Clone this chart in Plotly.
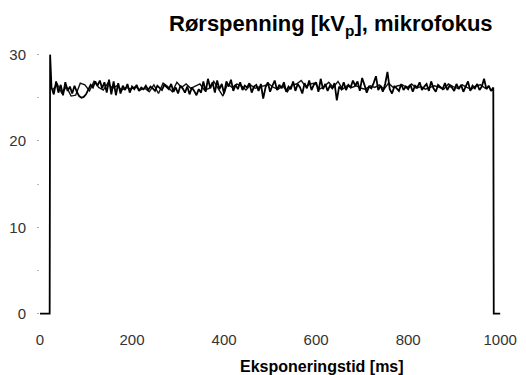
import plotly.graph_objects as go

# sample times (ms) of the measured high-voltage trace
plateau_t = list(range(25, 990, 5))
plateau_kv = [
    26.2, 25.4, 26.9, 25.6, 26.5, 25.3, 26.8, 25.8, 26.3, 25.5,
    26.4, 25.7, 25.2, 25.0, 25.1, 25.4, 25.9, 26.5, 26.2, 26.9,
    26.4, 27.0, 26.1, 26.8, 25.6, 27.1, 25.4, 26.9, 25.3, 26.7,
    25.5, 26.4, 25.9, 26.6, 25.6, 26.3, 26.0, 26.5, 25.8, 26.2,
    26.0, 26.4, 25.9, 26.3, 26.1, 25.8, 26.4, 26.2, 25.9, 26.5,
    26.3, 26.0, 26.6, 25.7, 26.2, 25.5, 26.4, 26.1, 25.6, 26.3,
    25.4, 26.2, 25.8, 25.3, 26.0, 25.6, 26.9, 25.7, 27.2, 26.1,
    26.8, 25.6, 27.0, 26.0, 26.6, 25.5, 26.9, 26.3, 27.1, 25.8,
    26.5, 26.0, 26.8, 25.9, 26.4, 26.2, 26.7, 25.6, 26.3, 26.5,
    25.8, 26.6, 24.9, 26.2, 26.8, 25.7, 26.4, 27.0, 25.9, 26.5,
    26.1, 26.8, 25.7, 26.3, 26.0, 26.9, 25.8, 26.6, 26.2, 25.5,
    26.7, 26.1, 27.0, 25.9, 26.5, 26.8, 25.7, 27.2, 26.0, 26.6,
    25.8, 26.4, 26.1, 26.7, 24.7, 26.3, 26.0, 26.8, 25.9, 26.5,
    26.2, 27.0, 26.4, 26.9, 25.8, 27.3, 26.5, 25.6, 26.3, 26.1,
    26.7, 27.5, 25.9, 26.4, 25.7, 26.6, 28.0, 26.0, 25.5, 26.3,
    26.1, 25.8, 26.6, 25.9, 26.3, 26.0, 26.5, 25.7, 26.4, 26.2,
    26.8, 25.9, 26.3, 26.6, 25.8, 26.9, 26.1, 25.7, 26.5, 26.3,
    26.0, 26.7, 25.9, 26.4, 26.2, 25.8, 26.6, 26.0, 26.5, 25.7,
    26.3, 26.9, 25.8, 26.4, 26.1, 26.6, 25.9, 26.3, 27.2, 26.0,
    26.4, 25.8, 26.2,
]
start_t = [0, 21, 22]
start_kv = [0, 0, 30.0]
end_t = [986, 1000]
end_kv = [0, 0]

# second overlapping trace (interleaved samples)
overlay_t = [v / 10 for v in range(275, 9776, 100)]
overlay_kv = [
    25.9, 26.6, 25.5, 26.3, 25.2, 25.3, 26.7, 26.5, 25.8, 26.9,
    26.2, 25.9, 26.7, 26.1, 26.4, 25.9, 26.2, 26.0, 26.3, 25.9,
    26.1, 25.7, 26.5, 25.5, 26.7, 26.3, 25.7, 26.8, 26.2, 26.6,
    26.1, 26.4, 26.6, 25.9, 26.1, 26.9, 26.0, 25.2, 26.6, 26.2,
    26.6, 26.4, 25.9, 26.5, 26.1, 26.3, 26.4, 26.6, 26.2, 26.0,
    26.4, 25.7, 26.5, 26.6, 27.0, 26.3, 26.6, 26.7, 26.0, 26.3,
    26.8, 26.2, 26.9, 26.0, 26.4, 26.2, 26.4, 26.1, 26.0, 26.4,
    26.2, 26.5, 26.0, 26.7, 26.2, 26.4, 26.5, 26.2, 26.6, 26.1,
    26.3, 26.0, 26.2, 26.4, 26.2, 26.0, 26.6, 26.3, 26.1, 26.5,
    26.2, 26.0, 26.4, 26.5, 26.1, 26.3,
]

t_ms = start_t + plateau_t + end_t
kv = start_kv + plateau_kv + end_kv

x_ticks = [0, 200, 400, 600, 800, 1000]
y_ticks = [0, 10, 20, 30]

title_text = "<b>Rørspenning [kV<sub>p</sub>], mikrofokus</b>"
x_title = "<b>Eksponeringstid [ms]</b>"

fig = go.Figure()
fig.add_trace(go.Scatter(x=overlay_t, y=overlay_kv, mode="lines",
                         line=dict(color="#111", width=1.4),
                         showlegend=False, hoverinfo="skip"))
fig.add_trace(go.Scatter(x=t_ms, y=kv, mode="lines",
                         line=dict(color="black", width=1.8),
                         showlegend=False, hoverinfo="skip"))

fig.update_layout(
    width=526, height=375,
    margin=dict(l=40, r=9, t=46, b=57),
    paper_bgcolor="white", plot_bgcolor="white",
    font=dict(family="Liberation Sans, Arial, sans-serif", color="#222", size=15),
    showlegend=False,
)
fig.update_xaxes(range=[0, 1030], tickvals=x_ticks, showgrid=False, zeroline=False,
                 showline=False, ticks="", ticklabelstandoff=11,
                 tickfont=dict(size=15, color="#333"))
fig.update_yaxes(range=[-0.5, 31], tickvals=y_ticks, showgrid=False, zeroline=False,
                 showline=False, ticks="outside", ticklen=2, tickcolor="#aaa",
                 ticklabelstandoff=8, tickfont=dict(size=15, color="#333"),
                 minor=dict(tickvals=[5, 15, 25], ticks="outside", ticklen=2, tickcolor="#bbb"))

fig.add_annotation(text=title_text, xref="paper", yref="paper", x=0.0, y=1.0,
                   xshift=291, yshift=21, xanchor="center", yanchor="middle",
                   showarrow=False, font=dict(size=22, color="black"))
fig.add_annotation(text=x_title, xref="paper", yref="paper", x=0.0, y=0.0,
                   xshift=282, yshift=-48, xanchor="center", yanchor="middle",
                   showarrow=False, font=dict(size=16, color="black"))

fig.write_html("out.html")
